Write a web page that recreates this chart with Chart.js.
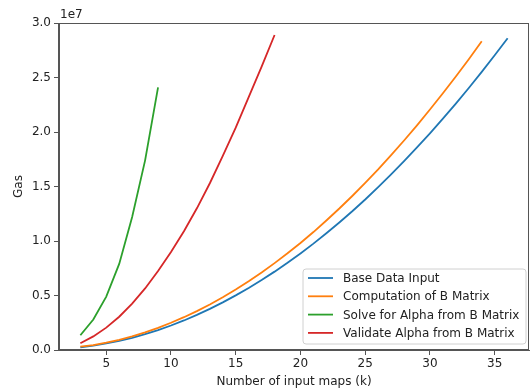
<!DOCTYPE html>
<html>
<head>
<meta charset="utf-8">
<script src="https://cdn.jsdelivr.net/npm/chart.js@4.4.0/dist/chart.umd.min.js"></script>
<style>
  html, body {margin:0; padding:0; background:#fff;}
  #wrap {width:531px; height:391px; position:relative;}
</style>
</head>
<body>
<div id="wrap"><canvas id="gasChart"></canvas></div>
<script>
// x values (k) for each run
var kBase = [3,4,5,6,7,8,9,10,11,12,13,14,15,16,17,18,19,20,21,22,23,24,25,26,27,28,29,30,31,32,33,34,35,36];
var kComp = [3,4,5,6,7,8,9,10,11,12,13,14,15,16,17,18,19,20,21,22,23,24,25,26,27,28,29,30,31,32,33,34];
var kSolve = [3,4,5,6,7,8,9];
var kValidate = [3,4,5,6,7,8,9,10,11,12,13,14,15,16,17,18];

// gas, in millions
var gasBase = [0.25,0.40,0.60,0.84,1.12,1.45,1.83,2.25,2.71,3.22,3.77,4.37,5.01,5.69,6.42,7.19,8.00,8.86,9.76,10.71,11.70,12.73,13.81,14.94,16.11,17.32,18.58,19.88,21.22,22.61,24.04,25.52,27.04,28.60];
var gasComp = [0.30,0.45,0.67,0.94,1.26,1.62,2.03,2.50,3.01,3.57,4.18,4.84,5.55,6.31,7.11,7.97,8.87,9.82,10.82,11.88,12.98,14.13,15.33,16.57,17.87,19.22,20.61,22.06,23.55,25.09,26.68,28.32];
var gasSolve = [1.35,2.80,4.90,7.90,12.20,17.40,24.10];
var gasValidate = [0.62,1.25,2.05,3.05,4.25,5.65,7.25,9.00,10.90,13.00,15.30,17.80,20.40,23.20,26.00,28.90];

var seriesNames = ['Base Data Input', 'Computation of B Matrix', 'Solve for Alpha from B Matrix', 'Validate Alpha from B Matrix'];
var seriesColors = ['#1f77b4', '#ff7f0e', '#2ca02c', '#d62728'];
var xTicks = [5,10,15,20,25,30,35];
var yTicks = [0,0.5,1.0,1.5,2.0,2.5,3.0];

var FONT = 'DejaVu Sans';
var toPts = (ks, ys) => ks.map((k, i) => ({x: k, y: ys[i] * 1e6}));
var allK = [kBase, kComp, kSolve, kValidate];
var allGas = [gasBase, gasComp, gasSolve, gasValidate];

var datasets = seriesNames.map((name, i) => ({
    label: name,
    data: toPts(allK[i], allGas[i]),
    borderColor: seriesColors[i],
    backgroundColor: seriesColors[i],
    borderWidth: 1.8,
    pointRadius: 0,
    tension: 0,
    fill: false,
    order: 4 - i
}));

// frame, offset label and legend box like matplotlib
var framePlugin = {
    id: 'frame',
    afterDraw(chart) {
        var {ctx, chartArea: a} = chart;
        ctx.save();
        ctx.strokeStyle = '#555';
        ctx.lineWidth = 1;
        ctx.strokeRect(Math.round(a.left) - 0.5, Math.round(a.top) + 0.5, Math.round(a.right - a.left), Math.round(a.bottom - a.top) - 1);
        ctx.fillStyle = '#222';
        ctx.font = '12px "' + FONT + '"';
        ctx.textBaseline = 'alphabetic';
        ctx.fillText('1e7', a.left + 1, a.top - 5);

        // legend
        var bx = 303, by = 269, bw = 223, bh = 75, r = 3;
        ctx.beginPath();
        ctx.moveTo(bx + r, by);
        ctx.arcTo(bx + bw, by, bx + bw, by + bh, r);
        ctx.arcTo(bx + bw, by + bh, bx, by + bh, r);
        ctx.arcTo(bx, by + bh, bx, by, r);
        ctx.arcTo(bx, by, bx + bw, by, r);
        ctx.closePath();
        ctx.fillStyle = 'rgba(255,255,255,0.8)';
        ctx.fill();
        ctx.strokeStyle = '#d0d0d0';
        ctx.stroke();
        ctx.textBaseline = 'middle';
        chart.data.datasets.forEach((ds, i) => {
            var y = by + 9 + i * 18.3;
            ctx.strokeStyle = ds.borderColor;
            ctx.lineWidth = 1.8;
            ctx.beginPath();
            ctx.moveTo(bx + 5, y);
            ctx.lineTo(bx + 30, y);
            ctx.stroke();
            ctx.fillStyle = '#222';
            ctx.fillText(ds.label, bx + 40, y + 1);
        });
        ctx.restore();
    }
};

var tickFont = {family: FONT, size: 12};
new Chart(document.getElementById('gasChart'), {
    type: 'line',
    data: {datasets},
    plugins: [framePlugin],
    options: {
        responsive: true,
        maintainAspectRatio: false,
        animation: false,
        layout: {padding: {top: 23, right: 2, left: 0, bottom: 0}},
        plugins: {legend: {display: false}, tooltip: {enabled: false}},
        scales: {
            x: {
                type: 'linear',
                min: 1.35,
                max: 37.65,
                afterFit: (s) => { s.height = 41; },
                afterBuildTicks: (s) => { s.ticks = xTicks.map((v) => ({value: v})); },
                ticks: {font: tickFont, color: '#222', padding: 2, maxRotation: 0, autoSkip: false},
                grid: {display: true, drawOnChartArea: false, drawTicks: true, tickLength: 5, tickColor: '#555'},
                border: {display: true, color: '#555'},
                title: {display: true, text: 'Number of input maps (k)', font: tickFont, color: '#222', padding: {top: 0, bottom: 2}}
            },
            y: {
                type: 'linear',
                min: 0,
                max: 3e7,
                afterFit: (s) => { s.width = 59; },
                afterBuildTicks: (s) => { s.ticks = yTicks.map((v) => ({value: v * 1e7})); },
                ticks: {font: tickFont, color: '#222', padding: 3, callback: (v) => (v / 1e7).toFixed(1)},
                grid: {display: true, drawOnChartArea: false, drawTicks: true, tickLength: 5, tickColor: '#555'},
                border: {display: true, color: '#555'},
                title: {display: true, text: 'Gas', font: tickFont, color: '#222', padding: {top: 12, bottom: 0}}
            }
        }
    }
});
</script>
</body>
</html>
